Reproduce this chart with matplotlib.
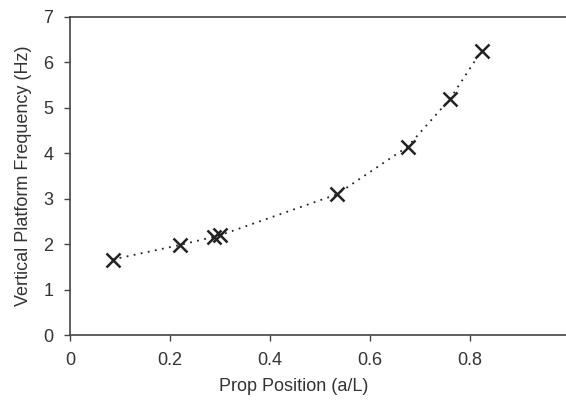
import matplotlib
matplotlib.use("Agg")
import matplotlib.pyplot as plt

# Data
prop_position = [0.085, 0.220, 0.288, 0.299, 0.533, 0.675, 0.760, 0.823]
platform_freq = [1.66, 1.98, 2.16, 2.19, 3.09, 4.14, 5.19, 6.25]

x_ticks = [0, 0.2, 0.4, 0.6, 0.8]
x_tick_labels = ["0", "0.2", "0.4", "0.6", "0.8"]
y_ticks = [0, 1, 2, 3, 4, 5, 6, 7]

plt.rcParams['font.family'] = ['Liberation Sans', 'DejaVu Sans']
text_color = '#333333'
axis_color = '#444444'

fig = plt.figure(figsize=(5.66, 4.0), dpi=100)
ax = fig.add_axes([70 / 566, 1 - 335 / 400, 1 - 70 / 566, (335 - 16.7) / 400])

# Dotted trend through the points, then the cross markers on top
ax.plot(prop_position, platform_freq, color='#222222', linestyle=(0, (1, 3)),
        linewidth=1.3, zorder=2)
ax.plot(prop_position, platform_freq, linestyle='none', marker='x',
        markersize=9.5, markeredgewidth=1.8, color='#222222', zorder=3)

ax.set_xlim(0, 0.992)
ax.set_ylim(0, 7)
ax.set_xticks(x_ticks)
ax.set_xticklabels(x_tick_labels)
ax.set_yticks(y_ticks)

ax.spines['right'].set_visible(False)
for side in ['left', 'bottom', 'top']:
    ax.spines[side].set_color(axis_color)
    ax.spines[side].set_linewidth(1.2)

ax.tick_params(direction='out', length=4, width=1.0, color=axis_color,
               pad=8, labelsize=13, labelcolor=text_color)
ax.tick_params(axis='x', top=False)

ax.set_xlabel('Prop Position (a/L)', fontsize=13, color=text_color)
ax.set_ylabel('Vertical Platform Frequency (Hz)', fontsize=13, color=text_color)
ax.xaxis.set_label_coords(0.45, -0.135)
ax.yaxis.set_label_coords(-0.077, 0.5)

fig.savefig('out.png', dpi=100)
